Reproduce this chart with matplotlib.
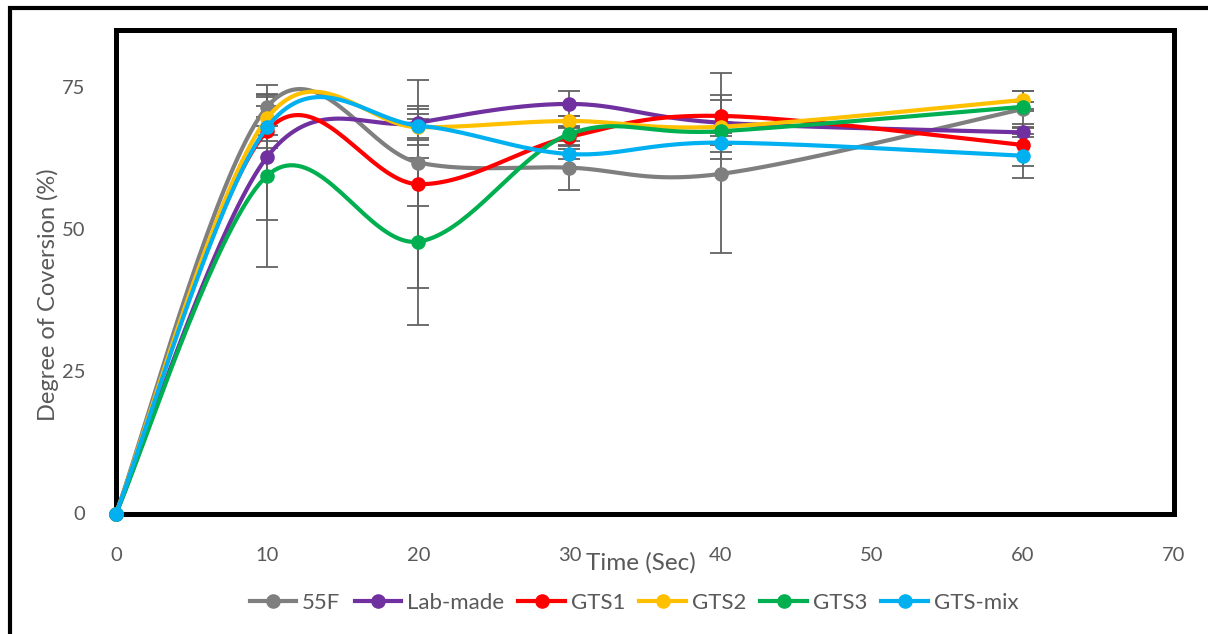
import numpy as np
import matplotlib
matplotlib.use("Agg")
import matplotlib.pyplot as plt
from matplotlib.patches import Rectangle
from matplotlib.lines import Line2D

# Curing time (s) and degree of conversion (%) per material
time_sec = [0, 10, 20, 30, 40, 60]
series_names = ["55F", "Lab-made", "GTS1", "GTS2", "GTS3", "GTS-mix"]
series_colors = ["#7F7F7F", "#7030A0", "#FF0000", "#FFC000", "#00B050", "#00B0F0"]

dc_55f = [0, 71.5, 61.7, 60.8, 59.7, 71.1]
dc_labmade = [0, 62.7, 68.7, 72.0, 68.7, 67.0]
dc_gts1 = [0, 67.3, 57.9, 66.2, 69.9, 64.8]
dc_gts2 = [0, 69.5, 67.9, 69.0, 68.0, 72.7]
dc_gts3 = [0, 59.4, 47.8, 66.7, 67.2, 71.5]
dc_gtsmix = [0, 67.9, 68.2, 63.2, 65.2, 62.9]

# Standard deviations
sd_55f = [0, 1.8, 7.7, 3.9, 13.9, 3.2]
sd_labmade = [0, 11.1, 3.0, 2.2, 4.0, 0.8]
sd_gts1 = [0, 0.8, 18.3, 1.6, 7.6, 3.7]
sd_gts2 = [0, 4.0, 3.2, 0.8, 0.8, 1.6]
sd_gts3 = [0, 16.0, 14.7, 1.2, 0.8, 0.8]
sd_gtsmix = [0, 3.7, 2.1, 0.8, 1.7, 3.9]

values = [dc_55f, dc_labmade, dc_gts1, dc_gts2, dc_gts3, dc_gtsmix]
errors = [sd_55f, sd_labmade, sd_gts1, sd_gts2, sd_gts3, sd_gtsmix]

x_ticks = [0, 10, 20, 30, 40, 50, 60, 70]
y_ticks = [0, 25, 50, 75]

TEXT = "#595959"
FONT = "Lato"


def smooth_curve(xs, ys, steps=40):
    """Bezier smoothing through every point (spreadsheet-style smoothed line)."""
    pts = np.column_stack([xs, ys]).astype(float)
    n = len(pts)
    out = [pts[:1]]
    t = np.linspace(0, 1, steps)[1:, None]
    for i in range(n - 1):
        p0 = pts[max(i - 1, 0)]
        p1 = pts[i]
        p2 = pts[i + 1]
        p3 = pts[min(i + 2, n - 1)]
        c1 = p1 + (p2 - p0) / 6.0
        c2 = p2 - (p3 - p1) / 6.0
        seg = ((1 - t) ** 3) * p1 + 3 * ((1 - t) ** 2) * t * c1 \
            + 3 * (1 - t) * t ** 2 * c2 + t ** 3 * p2
        out.append(seg)
    curve = np.vstack(out)
    return curve[:, 0], curve[:, 1]


fig = plt.figure(figsize=(12.08, 6.34), dpi=100)
ax = fig.add_axes([116 / 1208, 1 - 513.5 / 634, (1174 - 116) / 1208, (513.5 - 30) / 634])

# outer border of the chart area
fig.patches.append(Rectangle((10 / 1208, -0.2), 1.5, 1.2 - 8 / 634,
                             transform=fig.transFigure, fill=False,
                             edgecolor="black", linewidth=3.0, clip_on=False))

for name, color, ys, err in zip(series_names, series_colors, values, errors):
    ax.errorbar(time_sec, ys, yerr=err, fmt="none", ecolor="#626262",
                elinewidth=1.3, capsize=8, capthick=1.3, zorder=2)

for k, (name, color, ys) in enumerate(zip(series_names, series_colors, values)):
    cx, cy = smooth_curve(time_sec, ys)
    ax.plot(cx, cy, color=color, linewidth=3.0, solid_capstyle="round",
            zorder=3 + k * 0.1)
    ax.plot(time_sec, ys, linestyle="none", marker="o", markersize=10.5,
            color=color, markeredgewidth=0, zorder=3.05 + k * 0.1, clip_on=False)

ax.set_xlim(0, 70)
ax.set_ylim(0, 85)
ax.set_xticks(x_ticks)
ax.set_yticks(y_ticks)
ax.tick_params(length=0, labelsize=14.5, colors=TEXT)
ax.tick_params(axis="x", pad=24)
ax.tick_params(axis="y", pad=22)
for lab in ax.get_xticklabels() + ax.get_yticklabels():
    lab.set_fontfamily(FONT)

for sp in ax.spines.values():
    sp.set_linewidth(3.6)
    sp.set_color("black")
    sp.set_zorder(2.5)

ax.set_xlabel("Time (Sec)", fontsize=17.5, color=TEXT, fontfamily=FONT, va="center")
ax.xaxis.set_label_coords((641 - 116) / 1058, -(563 - 513.5) / 483.5)
ax.set_ylabel("Degree of Coversion (%)", fontsize=17, color=TEXT,
              fontfamily=FONT, va="center")
ax.yaxis.set_label_coords((48 - 116) / 1058, (513.5 - 295) / 483.5)

handles = [Line2D([0], [0], color=c, linewidth=3.0, marker="o", markersize=10.5,
                  markeredgewidth=0) for c in series_colors]
fig.legend(handles, series_names, loc="center", bbox_to_anchor=(634 / 1208, 1 - 603 / 634),
           ncol=6, frameon=False, handlelength=2.1, handletextpad=0.25,
           columnspacing=0.65, prop={"family": FONT, "size": 16},
           labelcolor=TEXT)

fig.savefig("out.png", dpi=100, facecolor="white")
